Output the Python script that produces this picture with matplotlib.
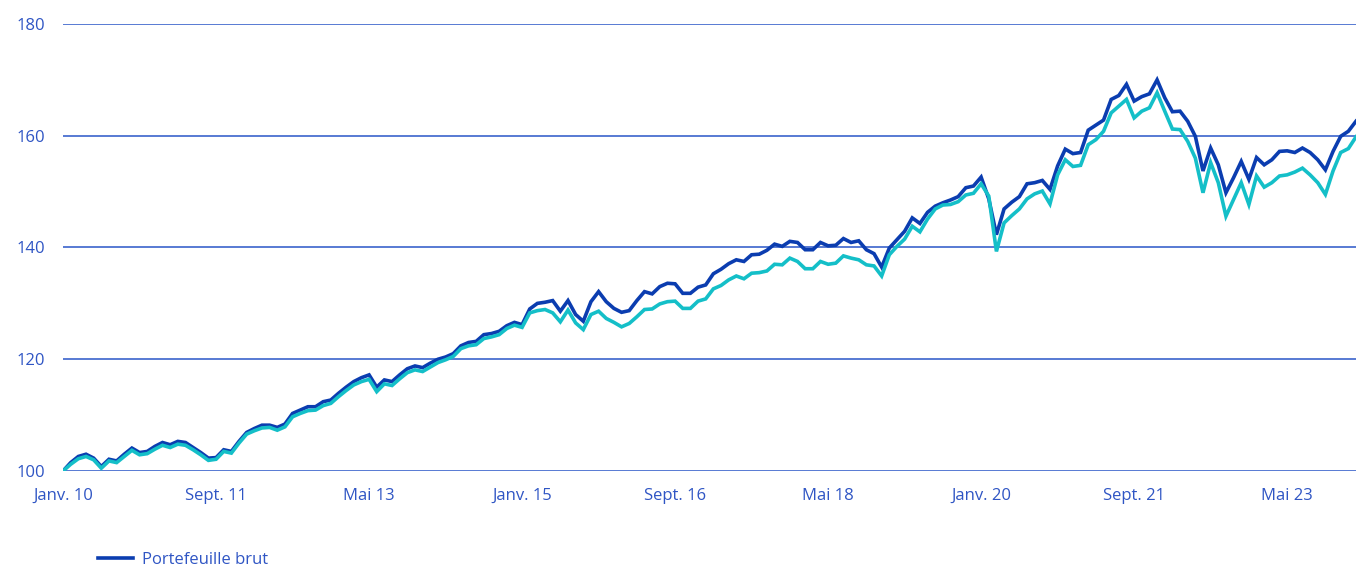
import numpy as np
import matplotlib.pyplot as plt

plt.rcParams['font.family'] = ['Open Sans', 'DejaVu Sans']

# monthly index, Janv. 2010 -> Févr. 2024
brut = [100.0, 101.5, 102.6, 103.0, 102.3, 100.8, 102.1, 101.8, 103.0, 104.1,
        103.3, 103.5, 104.4, 105.1, 104.7, 105.3, 105.1, 104.2, 103.3, 102.3,
        102.4, 103.8, 103.5, 105.3, 106.9, 107.6, 108.2, 108.2, 107.8, 108.4,
        110.3, 110.9, 111.5, 111.5, 112.4, 112.7, 113.9, 115.0, 116.0, 116.7,
        117.2, 115.0, 116.3, 116.0, 117.2, 118.3, 118.8, 118.5, 119.3, 120.0,
        120.4, 121.0, 122.4, 123.0, 123.2, 124.4, 124.6, 125.0, 126.0, 126.6,
        126.2, 129.0, 130.0, 130.2, 130.5, 128.6, 130.5, 128.0, 126.8, 130.3,
        132.1, 130.3, 129.1, 128.4, 128.7, 130.5, 132.1, 131.7, 133.0, 133.6,
        133.5, 131.8, 131.8, 132.9, 133.3, 135.3, 136.1, 137.1, 137.8, 137.5,
        138.7, 138.8, 139.5, 140.6, 140.2, 141.1, 140.9, 139.6, 139.6, 140.9,
        140.3, 140.4, 141.6, 140.9, 141.2, 139.6, 138.9, 136.5, 139.9, 141.4,
        142.9, 145.3, 144.3, 146.3, 147.4, 148.0, 148.5, 149.1, 150.7, 151.0,
        152.6, 148.7, 142.3, 146.9, 148.1, 149.1, 151.4, 151.6, 152.0, 150.4,
        154.6, 157.6, 156.8, 157.0, 161.0, 161.9, 162.8, 166.5, 167.2, 169.2,
        166.2, 167.0, 167.5, 170.0, 166.8, 164.3, 164.4, 162.6, 159.9, 153.7,
        157.8, 154.8, 149.8, 152.5, 155.4, 152.2, 156.1, 154.8, 155.7, 157.2,
        157.3, 157.0, 157.8, 157.0, 155.7, 153.9, 157.2, 159.9, 160.8, 162.6]

net = [100.0, 101.2, 102.2, 102.6, 102.0, 100.5, 101.8, 101.5, 102.6, 103.7,
       102.9, 103.1, 103.9, 104.6, 104.2, 104.8, 104.6, 103.8, 102.9, 101.9,
       102.1, 103.5, 103.2, 105.0, 106.6, 107.2, 107.7, 107.8, 107.3, 107.9,
       109.7, 110.3, 110.8, 110.9, 111.7, 112.1, 113.3, 114.4, 115.4, 116.0,
       116.4, 114.2, 115.6, 115.3, 116.5, 117.6, 118.1, 117.8, 118.6, 119.4,
       119.9, 120.5, 121.9, 122.4, 122.6, 123.7, 124.0, 124.4, 125.5, 126.1,
       125.7, 128.3, 128.7, 128.9, 128.3, 126.7, 128.8, 126.5, 125.3, 128.0,
       128.6, 127.3, 126.6, 125.8, 126.4, 127.6, 128.9, 129.0, 129.9, 130.3,
       130.4, 129.1, 129.1, 130.4, 130.8, 132.6, 133.2, 134.2, 134.9, 134.4,
       135.4, 135.5, 135.8, 137.0, 136.9, 138.1, 137.5, 136.2, 136.2, 137.5,
       137.0, 137.2, 138.5, 138.1, 137.8, 136.9, 136.7, 134.9, 138.7, 140.2,
       141.5, 143.8, 142.8, 145.1, 146.9, 147.6, 147.7, 148.2, 149.4, 149.7,
       151.4, 149.2, 139.3, 144.4, 145.7, 146.9, 148.7, 149.6, 150.1, 147.8,
       153.0, 155.7, 154.5, 154.7, 158.4, 159.3, 160.8, 164.1, 165.3, 166.5,
       163.2, 164.4, 165.0, 167.7, 164.4, 161.2, 161.1, 159.0, 156.0, 149.8,
       155.2, 151.6, 145.6, 148.6, 151.6, 147.7, 152.8, 150.8, 151.6, 152.8,
       153.0, 153.5, 154.2, 153.0, 151.6, 149.5, 153.7, 157.0, 157.7, 159.8]

x_labels = ['Janv. 10', 'Sept. 11', 'Mai 13', 'Janv. 15', 'Sept. 16',
            'Mai 18', 'Janv. 20', 'Sept. 21', 'Mai 23']
y_ticks = [100, 120, 140, 160, 180]

dark = '#0b3db0'
cyan = '#14bfc8'
grid_c = '#4a6fd0'
text_c = '#2f55c4'

months = np.arange(len(brut))

fig = plt.figure(figsize=(13.56, 5.70), dpi=100)
ax = fig.add_axes([0.0465, 0.1737, 0.9535, 0.7842])

ax.plot(months, brut, color=dark, lw=2.6, label='Portefeuille brut',
        solid_joinstyle='miter', zorder=3)
ax.plot(months, net, color=cyan, lw=2.6, solid_joinstyle='miter', zorder=4)

ax.set_xlim(0, len(brut) - 1)
ax.set_ylim(100, 180)
ax.set_yticks(y_ticks)
ax.set_xticks(np.arange(0, len(brut), 20))
ax.set_xticklabels(x_labels)

for s in ax.spines.values():
    s.set_visible(False)
ax.grid(axis='y', color=grid_c, lw=1.3)
ax.set_axisbelow(True)
ax.tick_params(axis='both', length=0, labelsize=12, labelcolor=text_c)
ax.tick_params(axis='y', pad=13)
ax.tick_params(axis='x', pad=12)

# legend sits at the very bottom edge
fig.legend(handles=[ax.lines[0]], loc='center left',
           bbox_to_anchor=(0.0725, 0.017), frameon=False, fontsize=12,
           labelcolor=text_c, handlelength=2.1, handletextpad=0.55,
           borderpad=0, borderaxespad=0)

fig.savefig('out.png', dpi=100)
